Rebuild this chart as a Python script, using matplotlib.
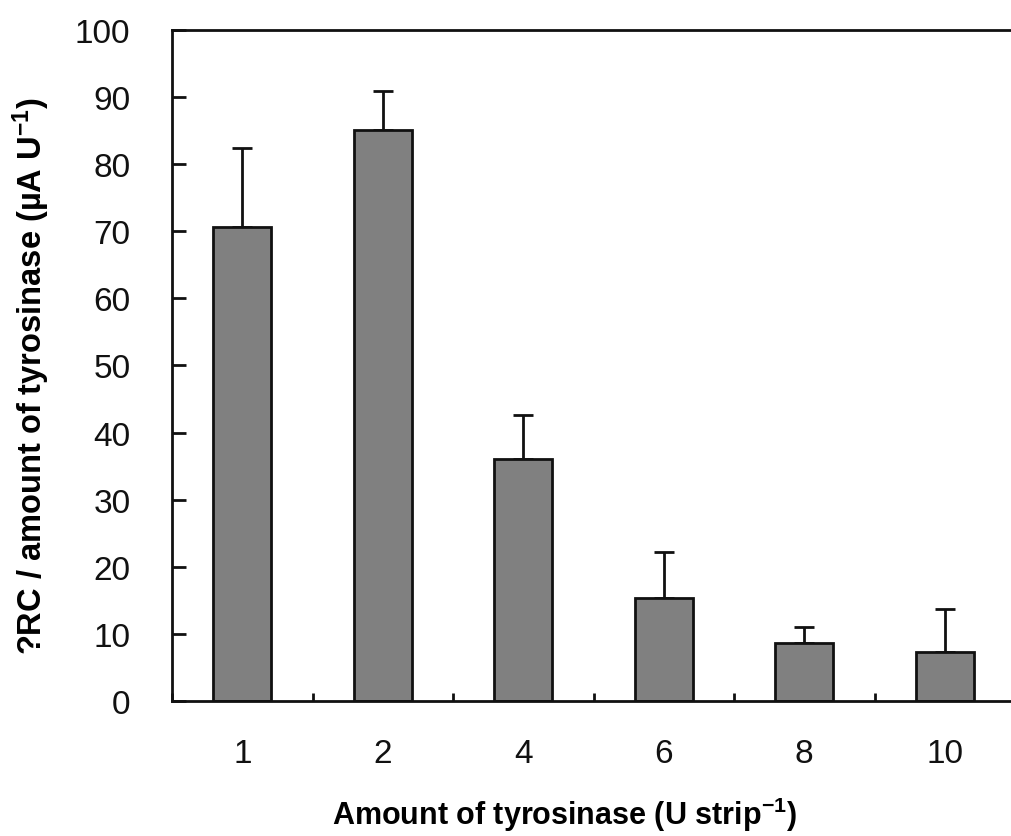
import numpy as np
import matplotlib
matplotlib.use('Agg')
from matplotlib import pyplot

# fonts
pyplot.rcParams['font.family'] = ['Liberation Sans', 'DejaVu Sans']
pyplot.rcParams['mathtext.fontset'] = 'custom'
pyplot.rcParams['mathtext.bf'] = 'Liberation Sans:bold'
pyplot.rcParams['mathtext.rm'] = 'Liberation Sans:bold'
pyplot.rcParams['mathtext.default'] = 'bf'

# DATA
amounts = ['1', '2', '4', '6', '8', '10']
response = [70.7, 85.1, 36.1, 15.3, 8.7, 7.3]
errors = [11.7, 5.8, 6.5, 6.9, 2.3, 6.4]

# figure at 100 dpi
dpi = 100.0
fig = pyplot.figure(figsize=(1012 / dpi, 837 / dpi), dpi=dpi)
ax = fig.add_axes([0.170, 0.1613, 0.833, 0.8017])

xpos = np.arange(len(amounts))
ax.bar(xpos, response, width=0.41, color='#808080', edgecolor='#111111',
       linewidth=2, zorder=2)
ax.errorbar(xpos, response, yerr=[np.zeros(len(errors)), errors], fmt='none',
            ecolor='#111111', elinewidth=2, capsize=7, capthick=2, zorder=1)

ax.set_xlim(-0.5, len(amounts) - 0.5)
ax.set_ylim(0, 100)

# spines
for side in ['left', 'bottom', 'top', 'right']:
    ax.spines[side].set_linewidth(2)
    ax.spines[side].set_color('#111111')

# y ticks inward, x ticks on category boundaries
ax.set_yticks(np.arange(0, 101, 10))
ax.tick_params(axis='y', direction='in', length=10, width=2, pad=30,
               labelsize=24, colors='#111111')
ax.set_xticks(np.arange(len(amounts) + 1) - 0.5)
ax.set_xticklabels([])
ax.tick_params(axis='x', direction='in', length=6, width=2, colors='#111111')
ax.set_xticks(xpos, minor=True)
ax.set_xticklabels(amounts, minor=True)
ax.tick_params(axis='x', which='minor', length=0, pad=27, labelsize=24,
               colors='#111111')

ax.set_xlabel(r'Amount of tyrosinase (U strip$^{-1}$)', fontsize=22,
              fontweight='bold')
ax.set_ylabel(r'?RC / amount of tyrosinase (µA U$^{-1}$)', fontsize=23.5,
              fontweight='bold')
ax.xaxis.set_label_coords(0.466, -0.139)
ax.yaxis.set_label_coords(-0.142, 0.485)

fig.savefig('out.png', dpi=dpi)
